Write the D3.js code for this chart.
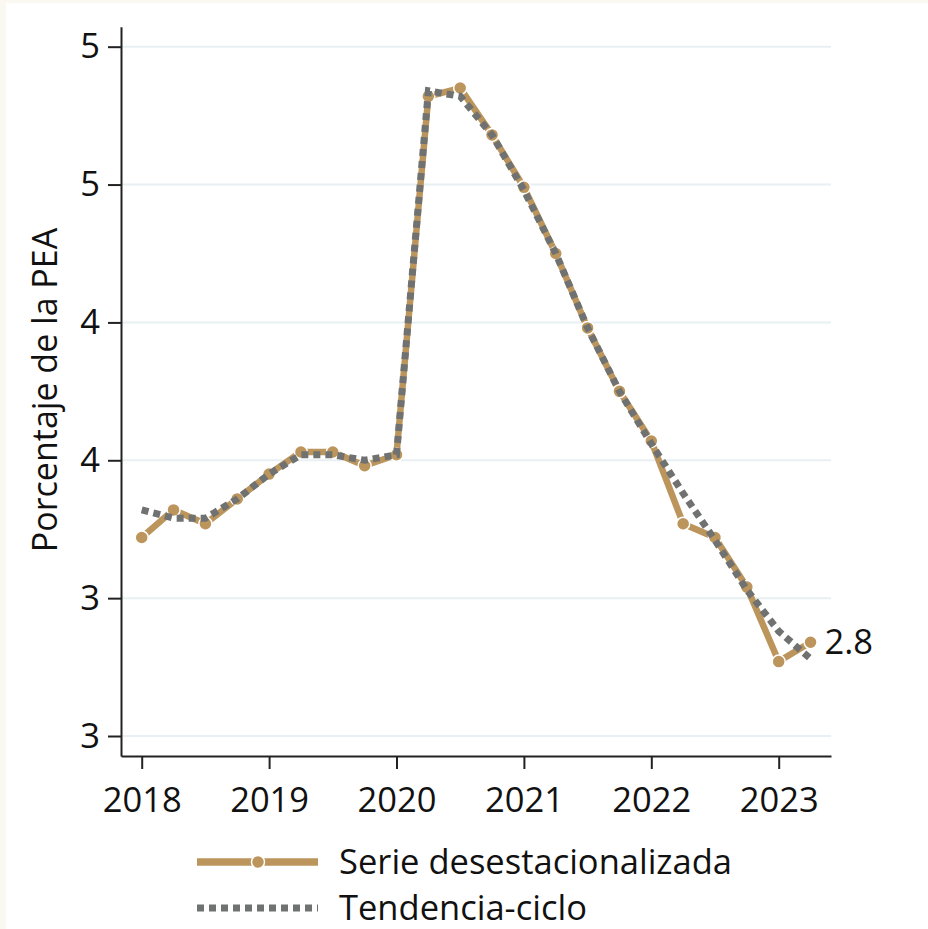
<!DOCTYPE html>
<html>
<head>
<meta charset="utf-8">
<script src="https://cdn.jsdelivr.net/npm/d3@7"></script>
<style>
  html, body { margin: 0; padding: 0; background: #fbf8f1; }
  svg { display: block; }
  text { font-family: "Open Sans", sans-serif; fill: #111; }
</style>
</head>
<body>
<div id="chart"></div>
<script>
// Trimestres 2018-I a 2023-II
let trimestres = ["2018-1","2018-2","2018-3","2018-4",
                  "2019-1","2019-2","2019-3","2019-4",
                  "2020-1","2020-2","2020-3","2020-4",
                  "2021-1","2021-2","2021-3","2021-4",
                  "2022-1","2022-2","2022-3","2022-4",
                  "2023-1","2023-2"]

// Serie desestacionalizada (% de la PEA)
let serie = [3.22, 3.32, 3.27, 3.36,
             3.45, 3.53, 3.53, 3.48,
             3.52, 4.82, 4.85, 4.68,
             4.49, 4.25, 3.98, 3.75,
             3.57, 3.27, 3.22, 3.04,
             2.77, 2.84]

// Tendencia-ciclo
let tendencia = [3.32, 3.29, 3.29, 3.36,
                 3.45, 3.52, 3.52, 3.50,
                 3.52, 4.84, 4.82, 4.68,
                 4.48, 4.25, 3.98, 3.75,
                 3.56, 3.38, 3.21, 3.03,
                 2.88, 2.78]

let anios = [2018, 2019, 2020, 2021, 2022, 2023]
let yTicks = [2.5, 3, 3.5, 4, 4.5, 5]
let yTickLabels = ["3", "3", "4", "4", "5", "5"]

let leyenda = ["Serie desestacionalizada", "Tendencia-ciclo"]

let dorado = "#bc955c"
let gris = "#6f7271"

// quarter string -> decimal year
function toTime(s) {
  let p = s.split("-")
  return +p[0] + (+p[1] - 1) / 4
}

let W = 928, H = 929

let svg = d3.select("#chart").append("svg")
  .attr("width", W)
  .attr("height", H)

svg.append("rect")
  .attr("x", 6).attr("y", 3)
  .attr("width", W - 6).attr("height", H - 3)
  .attr("fill", "#fff")

let x = d3.scaleLinear()
  .domain([2017.8375, 2023.4105])
  .range([121, 831])

let y = d3.scaleLinear()
  .domain([2.4275, 5.0725])
  .range([756, 26.7])

// gridlines
svg.append("g")
  .selectAll("line")
  .data(yTicks)
  .enter()
  .append("line")
  .attr("x1", 122)
  .attr("x2", 831)
  .attr("y1", d => y(d))
  .attr("y2", d => y(d))
  .attr("stroke", "#e8f0f3")
  .attr("stroke-width", 2)

// axes
svg.append("g")
  .attr("transform", "translate(121,0)")
  .call(d3.axisLeft(y)
    .tickValues(yTicks)
    .tickFormat((d, i) => yTickLabels[i])
    .tickSize(13)
    .tickSizeOuter(0)
    .tickPadding(8))

svg.append("g")
  .attr("transform", "translate(0,756)")
  .call(d3.axisBottom(x)
    .tickValues(anios)
    .tickFormat(d3.format("d"))
    .tickSize(13)
    .tickSizeOuter(0)
    .tickPadding(19))

svg.selectAll(".domain, .tick line")
  .attr("stroke", "#222")
  .attr("stroke-width", 2)

svg.selectAll(".tick text")
  .attr("font-family", "Open Sans")
  .attr("font-size", 34.5)
  .attr("fill", "#111")

// y title
svg.append("text")
  .attr("transform", "translate(57,390) rotate(-90)")
  .attr("text-anchor", "middle")
  .attr("font-size", 34)
  .text("Porcentaje de la PEA")

// lines
let line = d3.line()
  .x((d, i) => x(toTime(trimestres[i])))
  .y(d => y(d))

svg.append("path")
  .datum(serie)
  .attr("d", line)
  .attr("fill", "none")
  .attr("stroke", dorado)
  .attr("stroke-width", 6.5)
  .attr("stroke-linejoin", "round")

svg.append("g")
  .selectAll("circle")
  .data(serie)
  .enter()
  .append("circle")
  .attr("cx", (d, i) => x(toTime(trimestres[i])))
  .attr("cy", d => y(d))
  .attr("r", 6.5)
  .attr("fill", dorado)
  .attr("stroke", "#fff")
  .attr("stroke-width", 1.5)

svg.append("path")
  .datum(tendencia)
  .attr("d", line)
  .attr("fill", "none")
  .attr("stroke", gris)
  .attr("stroke-width", 7)
  .attr("stroke-dasharray", "7,5")

// last value label
let ultimo = serie.length - 1
svg.append("text")
  .attr("x", x(toTime(trimestres[ultimo])) + 14)
  .attr("y", y(serie[ultimo]) + 12)
  .attr("font-size", 34.5)
  .text(d3.format(".1f")(serie[ultimo]))

// legend
let lg = svg.append("g")

lg.append("line")
  .attr("x1", 197).attr("x2", 318)
  .attr("y1", 862).attr("y2", 862)
  .attr("stroke", dorado)
  .attr("stroke-width", 7.5)

lg.append("circle")
  .attr("cx", 258).attr("cy", 862)
  .attr("r", 6.5)
  .attr("fill", dorado)
  .attr("stroke", "#fff")
  .attr("stroke-width", 1.5)

lg.append("line")
  .attr("x1", 197).attr("x2", 318)
  .attr("y1", 908).attr("y2", 908)
  .attr("stroke", gris)
  .attr("stroke-width", 7)
  .attr("stroke-dasharray", "7,5")

lg.selectAll("text")
  .data(leyenda)
  .enter()
  .append("text")
  .attr("x", 339)
  .attr("y", (d, i) => 874 + i * 46)
  .attr("font-size", 34.5)
  .text(d => d)
</script>
</body>
</html>
